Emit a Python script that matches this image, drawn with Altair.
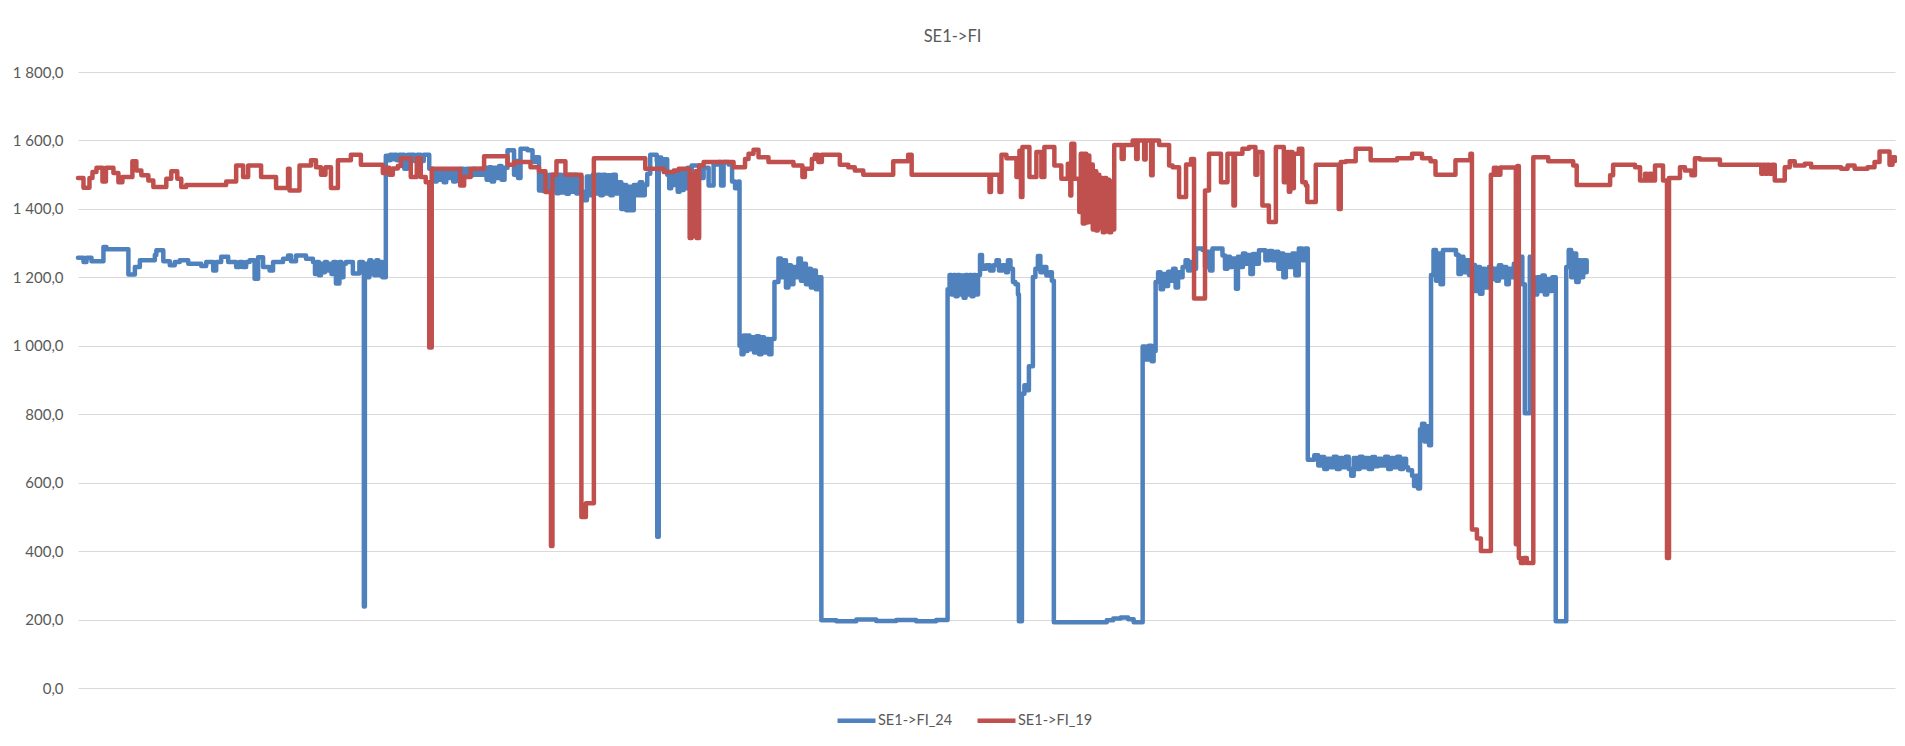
import altair as alt
import pandas as pd

SERIES_24 = "SE1->FI_24"
SERIES_19 = "SE1->FI_19"
TITLE = "SE1->FI"
Y_TICKS = [0, 200, 400, 600, 800, 1000, 1200, 1400, 1600, 1800]

# (day of year, MW) breakpoints, 2019 series
red_19 = [
    (0, 1490), (1.1, 1462), (2.3, 1490), (2.9, 1508), (3.7, 1520), (4.9, 1480), (5.6, 1520), (7.1, 1505),
    (8.1, 1478), (8.9, 1493), (10.9, 1539), (11.7, 1512), (12.7, 1498), (14.1, 1483), (15.1, 1464),
    (17.7, 1488), (18.7, 1510), (19.9, 1488), (20.7, 1464), (21.7, 1470), (29.7, 1480), (31.7, 1527),
    (33.1, 1493), (34.1, 1527), (36.7, 1493), (39.7, 1461), (42.1, 1517), (42.4, 1454), (44.4, 1527),
    (46.7, 1542), (47.7, 1522), (48.7, 1500), (49.6, 1522), (50.7, 1461), (52.1, 1542), (54.7, 1558),
    (56.7, 1529), (61.1, 1505), (61.7, 1520), (62.4, 1500), (63.1, 1518), (64.1, 1525), (64.7, 1548),
    (66.7, 1493), (67.9, 1548), (68.7, 1493), (69.7, 1478), (70.4, 995), (70.9, 1517), (76.6, 1468),
    (77.4, 1493), (78.7, 1517), (81.4, 1554), (86.1, 1529), (87.4, 1537), (90.7, 1522), (92.4, 1510),
    (93.7, 1449), (94.8, 415), (95.1, 1500), (95.9, 1539), (97.7, 1500), (100.9, 500), (101.8, 540),
    (103.4, 1548), (113.7, 1517), (117.4, 1508), (119.4, 1512), (120.4, 1517), (122.6, 1315), (123.0, 1500),
    (123.3, 1320), (123.7, 1510), (124.0, 1315), (124.5, 1527), (125.4, 1537), (131.4, 1522), (133.7, 1546),
    (134.4, 1561), (135.4, 1573), (136.4, 1551), (138.4, 1537), (143.4, 1527), (145.2, 1493), (145.7, 1517),
    (147.1, 1546), (147.7, 1558), (148.4, 1537), (149.1, 1558), (152.7, 1529), (154.4, 1522), (155.7, 1512),
    (157.4, 1500), (163.4, 1539), (166.4, 1558), (167.1, 1500), (182.7, 1449), (183.0, 1500), (184.7, 1449),
    (185.1, 1558), (186.1, 1548), (188.1, 1493), (188.7, 1570), (189.0, 1435), (189.3, 1581), (190.7, 1493),
    (192.1, 1566), (193.1, 1493), (193.7, 1581), (195.7, 1527), (197.1, 1488), (198.4, 1532), (198.9, 1439),
    (199.1, 1590), (199.7, 1488), (200.7, 1391), (201.0, 1561), (201.4, 1357), (201.8, 1561), (202.1, 1360),
    (202.4, 1556), (202.7, 1362), (203.1, 1530), (203.4, 1340), (203.8, 1510), (204.1, 1337), (204.4, 1500),
    (204.7, 1345), (205.0, 1490), (205.4, 1332), (205.8, 1490), (206.1, 1335), (206.4, 1485), (206.7, 1332),
    (207.1, 1480), (207.4, 1340), (207.7, 1587), (209.2, 1546), (209.6, 1587), (211.4, 1600), (212.1, 1546),
    (212.4, 1600), (213.7, 1544), (214.0, 1600), (215.1, 1498), (215.4, 1600), (216.7, 1587), (218.7, 1527),
    (219.4, 1522), (220.7, 1435), (222.1, 1530), (223.1, 1546), (223.7, 1138), (225.9, 1454), (226.7, 1561),
    (229.1, 1478), (230.4, 1561), (231.6, 1410), (231.9, 1561), (233.4, 1576), (234.7, 1581), (236.0, 1500),
    (236.4, 1566), (237.4, 1410), (238.7, 1362), (240.1, 1581), (241.7, 1478), (242.4, 1566), (242.7, 1450),
    (243.0, 1566), (243.4, 1460), (243.7, 1561), (244.7, 1576), (245.4, 1478), (246.1, 1468), (246.4, 1420),
    (248.1, 1529), (252.7, 1400), (253.1, 1537), (254.1, 1539), (256.1, 1576), (259.1, 1542), (264.4, 1548),
    (267.4, 1561), (269.4, 1548), (271.1, 1539), (272.1, 1500), (276.1, 1542), (279.1, 1561), (279.4, 463),
    (280.4, 437), (281.2, 400), (283.2, 1500), (283.8, 1520), (284.4, 1500), (285.1, 1521), (288.2, 420),
    (288.5, 1525), (288.8, 380), (289.2, 365), (289.8, 380), (290.4, 365), (291.7, 1551), (294.7, 1539),
    (299.7, 1527), (300.4, 1470), (307.1, 1498), (307.7, 1529), (312.1, 1522), (313.1, 1483), (314.1, 1503),
    (314.5, 1483), (315.0, 1503), (315.4, 1483), (316.1, 1527), (317.7, 1483), (318.5, 380), (318.9, 1490),
    (321.1, 1522), (322.1, 1512), (323.4, 1498), (324.1, 1548), (325.1, 1544), (329.1, 1529), (337.4, 1503),
    (337.8, 1529), (338.2, 1503), (338.6, 1529), (339.0, 1503), (339.5, 1529), (340.1, 1483), (342.1, 1522),
    (343.1, 1539), (344.1, 1527), (346.1, 1532), (347.4, 1522), (353.4, 1517), (354.7, 1527), (356.1, 1517),
    (358.7, 1522), (360.1, 1537), (361.1, 1568), (363.1, 1529), (363.7, 1551), (364.2, 1540),
]

# (day of year, MW) breakpoints, 2024 series
blue_24 = [
    (0, 1257), (1.1, 1245), (1.7, 1257), (2.7, 1247), (5.1, 1289), (5.7, 1282), (10.1, 1208), (11.4, 1230),
    (12.4, 1250), (15.4, 1265), (15.7, 1279), (17.1, 1247), (18.4, 1235), (19.4, 1245), (20.4, 1250),
    (22.1, 1240), (24.7, 1233), (25.7, 1245), (27.1, 1220), (27.7, 1245), (28.7, 1260), (30.1, 1245),
    (31.7, 1230), (32.4, 1245), (33.0, 1230), (33.7, 1245), (34.4, 1250), (35.4, 1196), (36.1, 1259),
    (37.1, 1230), (38.4, 1220), (39.1, 1245), (41.1, 1254), (42.1, 1264), (42.7, 1247), (43.7, 1264),
    (45.7, 1254), (47.1, 1245), (47.5, 1210), (47.9, 1245), (48.3, 1206), (48.7, 1240), (49.1, 1215),
    (49.5, 1245), (49.9, 1220), (50.4, 1240), (50.8, 1210), (51.2, 1245), (51.7, 1182), (52.4, 1245),
    (52.8, 1200), (53.2, 1240), (53.7, 1245), (55.1, 1211), (56.4, 1245), (57.1, 1230), (57.3, 238),
    (57.5, 1240), (57.9, 1200), (58.4, 1250), (58.8, 1210), (59.2, 1245), (59.4, 1206), (59.8, 1250),
    (60.2, 1206), (60.6, 1245), (61.0, 1200), (61.7, 1555), (62.2, 1542), (62.6, 1558), (63.0, 1545),
    (63.4, 1558), (63.9, 1542), (64.4, 1558), (65.4, 1517), (66.1, 1558), (67.4, 1540), (68.0, 1558),
    (68.7, 1540), (69.3, 1558), (70.4, 1517), (71.1, 1500), (71.5, 1480), (71.9, 1515), (72.3, 1485),
    (72.8, 1512), (73.3, 1478), (73.8, 1510), (74.3, 1490), (74.7, 1515), (75.2, 1480), (75.7, 1512),
    (76.2, 1482), (76.7, 1517), (77.3, 1495), (77.9, 1517), (78.5, 1498), (79.2, 1517), (79.8, 1500),
    (80.5, 1517), (81.1, 1500), (81.4, 1520), (81.9, 1485), (82.4, 1522), (82.9, 1480), (83.4, 1520),
    (83.9, 1490), (84.4, 1525), (84.9, 1485), (85.5, 1520), (86.1, 1571), (87.4, 1500), (87.8, 1540),
    (88.2, 1490), (88.7, 1576), (90.1, 1571), (91.1, 1537), (91.7, 1551), (92.4, 1454), (92.8, 1500),
    (93.2, 1452), (93.6, 1498), (94.0, 1450), (94.5, 1500), (95.0, 1455), (95.4, 1500), (95.9, 1446),
    (96.4, 1500), (96.9, 1448), (97.4, 1498), (97.9, 1444), (98.4, 1500), (98.9, 1450), (99.4, 1500),
    (99.9, 1445), (100.4, 1495), (100.9, 1450), (101.4, 1425), (102.0, 1495), (102.7, 1440), (103.2, 1500),
    (103.7, 1445), (104.2, 1500), (104.7, 1440), (105.2, 1500), (105.7, 1445), (106.2, 1498), (106.7, 1440),
    (107.2, 1500), (107.8, 1445), (108.4, 1478), (108.9, 1400), (109.4, 1470), (109.9, 1396), (110.4, 1465),
    (110.9, 1396), (111.4, 1470), (112.1, 1440), (112.6, 1478), (113.1, 1440), (113.6, 1470), (114.1, 1503),
    (114.7, 1558), (116.0, 1540), (116.1, 442), (116.4, 1550), (116.9, 1520), (117.4, 1545), (118.1, 1500),
    (118.5, 1460), (118.9, 1500), (119.4, 1470), (119.8, 1510), (120.2, 1450), (120.6, 1510), (121.0, 1455),
    (121.4, 1510), (121.8, 1460), (122.2, 1520), (122.6, 1480), (123.0, 1527), (124.8, 1490), (125.4, 1520),
    (126.4, 1468), (127.4, 1530), (128.4, 1537), (128.9, 1468), (129.4, 1537), (130.4, 1530), (131.1, 1480),
    (131.7, 1460), (132.4, 1480), (132.6, 1000), (133.0, 975), (133.4, 1030), (133.8, 985), (134.2, 1030),
    (134.6, 990), (135.0, 1025), (135.5, 980), (136.0, 1028), (136.5, 975), (137.0, 1025), (137.5, 980),
    (138.0, 1020), (138.5, 975), (139.0, 1020), (139.6, 1186), (140.4, 1255), (140.9, 1200), (141.4, 1250),
    (141.9, 1170), (142.4, 1235), (142.9, 1180), (143.4, 1230), (143.9, 1200), (144.4, 1255), (144.9, 1190),
    (145.4, 1240), (145.9, 1180), (146.4, 1225), (146.9, 1170), (147.4, 1220), (147.9, 1165), (148.4, 1200),
    (149.0, 198), (152.0, 195), (156.0, 200), (160.0, 196), (164.0, 199), (168.0, 195), (172.0, 199),
    (174.3, 1165), (174.7, 1207), (175.1, 1150), (175.5, 1207), (175.9, 1145), (176.3, 1207), (176.7, 1150),
    (177.1, 1205), (177.5, 1140), (177.9, 1207), (178.3, 1150), (178.7, 1207), (179.1, 1145), (179.5, 1207),
    (179.9, 1150), (180.4, 1207), (180.8, 1265), (181.2, 1225), (182.0, 1235), (182.8, 1220), (183.5, 1235),
    (184.1, 1250), (184.6, 1220), (185.3, 1235), (186.0, 1215), (186.4, 1250), (186.9, 1225), (187.4, 1186),
    (187.9, 1180), (188.4, 1150), (188.6, 195), (189.2, 860), (189.7, 885), (190.1, 870), (190.6, 940),
    (191.4, 1201), (191.9, 1225), (192.4, 1262), (192.9, 1215), (193.5, 1230), (194.1, 1205), (194.7, 1215),
    (195.2, 1190), (195.6, 192), (206.2, 198), (207.5, 203), (209.0, 206), (210.5, 201), (211.6, 192),
    (213.4, 998), (214.0, 960), (214.6, 1000), (215.2, 955), (215.6, 985), (216.0, 1186), (216.5, 1215),
    (217.0, 1165), (217.5, 1210), (218.0, 1175), (218.5, 1216), (219.0, 1190), (219.5, 1225), (220.0, 1170),
    (220.5, 1215), (221.0, 1200), (221.4, 1230), (222.0, 1250), (222.5, 1220), (223.0, 1245), (223.5, 1225),
    (224.1, 1284), (225.4, 1280), (225.9, 1230), (226.4, 1275), (226.9, 1220), (227.4, 1284), (229.4, 1264),
    (229.9, 1225), (230.4, 1260), (230.9, 1230), (231.4, 1255), (232.1, 1167), (232.5, 1260), (233.0, 1230),
    (233.5, 1270), (234.0, 1240), (234.5, 1265), (235.0, 1210), (235.5, 1268), (236.0, 1240), (236.7, 1279),
    (238.0, 1250), (238.7, 1277), (239.4, 1250), (240.1, 1275), (240.6, 1225), (241.1, 1270), (241.6, 1200),
    (242.1, 1265), (242.7, 1230), (243.4, 1270), (244.0, 1206), (244.7, 1284), (245.4, 1250), (246.0, 1284),
    (246.5, 667), (247.8, 680), (248.6, 650), (249.2, 675), (249.8, 640), (250.4, 670), (251.1, 645),
    (251.7, 676), (252.3, 640), (252.9, 672), (253.5, 645), (254.1, 676), (254.7, 640), (255.2, 620),
    (255.7, 672), (256.3, 640), (256.9, 676), (257.5, 645), (258.1, 672), (258.7, 640), (259.4, 675),
    (260.0, 648), (260.6, 670), (261.3, 650), (262.0, 676), (262.6, 640), (263.2, 672), (263.8, 645),
    (264.4, 676), (265.0, 640), (265.6, 670), (266.2, 645), (266.6, 636), (267.4, 620), (267.8, 590),
    (268.2, 620), (268.6, 583), (269.0, 756), (269.4, 772), (269.9, 720), (270.4, 765), (270.8, 709),
    (271.2, 1207), (271.7, 1280), (272.2, 1190), (272.7, 1270), (273.1, 1180), (273.6, 1280), (276.2, 1266),
    (276.7, 1210), (277.2, 1260), (277.7, 1215), (278.2, 1250), (278.8, 1207), (279.5, 1236), (280.0, 1160),
    (280.5, 1230), (281.0, 1152), (281.5, 1225), (282.0, 1170), (282.8, 1230), (283.3, 1195), (283.8, 1225),
    (284.3, 1190), (284.8, 1235), (285.3, 1200), (285.8, 1230), (286.3, 1180), (286.8, 1225), (287.3, 1200),
    (287.8, 1240), (288.4, 1200), (289.0, 1260), (289.5, 1180), (290.0, 803), (291.0, 1260), (291.5, 1200),
    (292.0, 1150), (292.5, 1200), (293.0, 1160), (293.5, 1205), (294.0, 1150), (294.5, 1195), (295.0, 1160),
    (295.5, 1200), (296.2, 195), (298.3, 1230), (298.8, 1280), (299.3, 1200), (299.8, 1270), (300.3, 1186),
    (300.8, 1250), (301.2, 1200), (301.7, 1250), (302.1, 1215), (302.4, 1250),
]

rows = []
for i, (d, v) in enumerate(blue_24):
    rows.append({"day": d, "mw": v, "series": SERIES_24, "idx": i})
for i, (d, v) in enumerate(red_19):
    rows.append({"day": d, "mw": v, "series": SERIES_19, "idx": i})
df = pd.DataFrame(rows)

FONT = "Lato"
GREY = "#595959"

color = alt.Color(
    "series:N",
    scale=alt.Scale(domain=[SERIES_24, SERIES_19], range=["#4F81BD", "#C0504D"]),
    legend=alt.Legend(
        orient="none", legendX=757, legendY=627, direction="horizontal", title=None,
        symbolType="stroke", symbolSize=1444, symbolStrokeWidth=4.5,
        labelFont=FONT, labelFontSize=14.5, labelColor=GREY, labelOffset=0, columnPadding=15,
    ),
)
x = alt.X("day:Q", scale=alt.Scale(domain=[0, 364.2], nice=False, zero=False), axis=None)
y = alt.Y(
    "mw:Q",
    scale=alt.Scale(domain=[0, 1800], nice=False),
    axis=alt.Axis(
        values=Y_TICKS, title=None, ticks=False, domain=False, grid=True,
        gridColor="#D9D9D9", gridWidth=1, labelPadding=15, labelFont=FONT,
        labelFontSize=15, labelColor=GREY,
        labelExpr="replace(replace(format(datum.value, ',.1f'), ',', ' '), '.', ',')",
    ),
)

base = alt.Chart(df).mark_line(interpolate="step-after", strokeWidth=4.5, strokeJoin="round", strokeCap="round")
blue = base.transform_filter(alt.datum.series == SERIES_24).encode(x=x, y=y, color=color, order="idx:Q")
red = base.transform_filter(alt.datum.series == SERIES_19).encode(x=x, y=y, color=color, order="idx:Q")

chart = (
    alt.layer(blue, red)
    .properties(
        width=1817, height=616,
        padding={"left": 70, "top": 64, "right": 2, "bottom": 48},
        autosize=alt.AutoSizeParams(type="none"),
        title=alt.TitleParams(TITLE, font=FONT, fontSize=16.5, fontWeight="normal", color=GREY,
                              offset=20, dx=-34, anchor="middle"),
    )
    .configure_view(stroke=None)
)

chart.save("out.html", embed_options={"renderer": "svg", "actions": False})
